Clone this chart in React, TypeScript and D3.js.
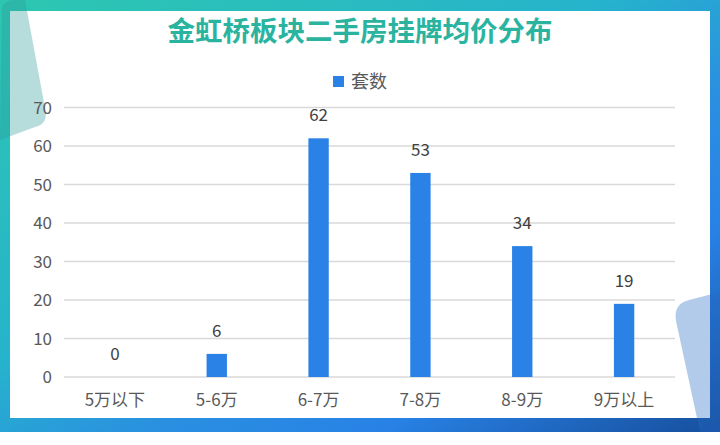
import * as d3 from "d3";

// chart data
const categories = ["5万以下", "5-6万", "6-7万", "7-8万", "8-9万", "9万以上"];
const counts = [0, 6, 62, 53, 34, 19];
const yTicks = [0, 10, 20, 30, 40, 50, 60, 70];
const seriesName = "套数";
const title = "金虹桥板块二手房挂牌均价分布";

const W = 720;
const H = 445;
const FONT = "'Noto Sans CJK SC', 'Noto Sans', sans-serif";

const App = () => {
    const x = d3.scaleBand<string>()
        .domain(categories)
        .range([64, 675])
        .paddingInner(0.8)
        .paddingOuter(0.4);

    const y = d3.scaleLinear()
        .domain([0, 70])
        .range([377, 107.5]);

    return (
        <div style={{position: "absolute", left: 0, top: 0}}>
            <svg width={W} height={H} style={{display: "block"}}>
                <defs>
                    <linearGradient id="frame" x1="0" y1="0" x2="1" y2="1">
                        <stop offset="0" stopColor="#2dc7b0"/>
                        <stop offset="0.42" stopColor="#26b3cc"/>
                        <stop offset="0.6" stopColor="#2a90e0"/>
                        <stop offset="0.76" stopColor="#2882e6"/>
                        <stop offset="1" stopColor="#174e9c"/>
                    </linearGradient>
                </defs>
                <rect x={0} y={0} width={W} height={H} fill="#fff"/>
                {/* frame and panel */}
                <rect x={0} y={0} width={720} height={432} fill="url(#frame)"/>
                <rect x={10} y={11} width={700} height={407} fill="#fff"/>

                {/* corner decorations */}
                <path d="M 2 8 Q 4 0 14 0 L 25 0 L 45 108 Q 49 124 35 127 L 0 140 Z"
                      fill="#2f9b9b" fillOpacity={0.35}/>
                <path d="M 720 292 L 689 300 Q 673 304 676 321 L 700 432 L 720 432 Z"
                      fill="#266ac6" fillOpacity={0.35}/>

                {/* title */}
                <text x={360} y={41} textAnchor="middle" fontFamily={FONT} fontSize={27.5}
                      fontWeight="bold" fill="#2ab4a0">{title}</text>

                {/* legend */}
                <rect x={333} y={76} width={11} height={11} fill="#2b82e6"/>
                <text x={351} y={88} fontFamily={FONT} fontSize={18} fill="#595959">{seriesName}</text>

                {/* grid + y axis */}
                {yTicks.map(t => (
                    <g key={t}>
                        <line x1={64} x2={675} y1={y(t)} y2={y(t)} stroke="#d9d9d9" strokeWidth={1.6}/>
                        <text x={52} y={y(t)} dy="0.36em" textAnchor="end" fontFamily={FONT}
                              fontSize={17} fill="#595959">{t}</text>
                    </g>
                ))}

                {/* bars */}
                {categories.map((c, i) => (
                    <g key={c}>
                        <rect x={x(c)} y={y(counts[i])} width={x.bandwidth()}
                              height={y(0) - y(counts[i])} fill="#2b82e6"/>
                        <text x={(x(c) ?? 0) + x.bandwidth() / 2} y={y(counts[i]) - 17}
                              textAnchor="middle" fontFamily={FONT} fontSize={17}
                              fill="#404040">{counts[i]}</text>
                        <text x={(x(c) ?? 0) + x.bandwidth() / 2} y={406}
                              textAnchor="middle" fontFamily={FONT} fontSize={17}
                              fill="#595959">{c}</text>
                    </g>
                ))}
            </svg>
        </div>
    );
};

export default App;
